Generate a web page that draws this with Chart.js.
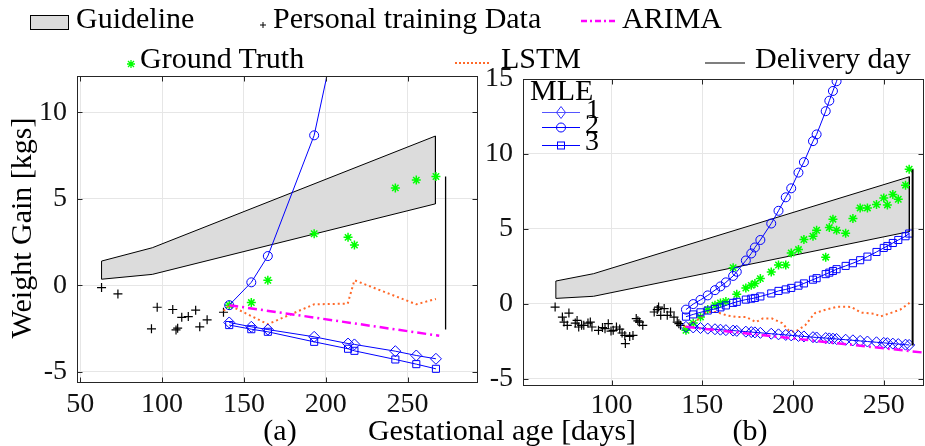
<!DOCTYPE html>
<html>
<head>
<meta charset="utf-8">
<title>Weight gain</title>
<script src="https://cdn.jsdelivr.net/npm/chart.js@4.4.0/dist/chart.umd.min.js"></script>
<style>
  body { margin: 0; width: 925px; height: 446px; overflow: hidden; background: #fff; position: relative; }
  canvas, svg { position: absolute; left: 0; top: 0; }
  svg text { font-family: 'Liberation Serif', serif; fill: #000; }
</style>
</head>
<body>
<canvas id="chartA" width="925" height="446"></canvas>
<canvas id="chartB" width="930" height="446"></canvas>

<svg width="925" height="446" style="pointer-events:none">
  <!-- top legend -->
  <rect x="30.5" y="15.5" width="38" height="14" fill="#dcdcdc" stroke="#000" stroke-width="1"/>
  <text x="76" y="28" font-size="30">Guideline</text>
  <path d="M260 25 h6 M263 22 v6" stroke="#000" stroke-width="1"/>
  <text x="273" y="28" font-size="30">Personal training Data</text>
  <line x1="581" y1="21" x2="617" y2="21" stroke="#ff00ff" stroke-width="2.5" stroke-dasharray="6,3,2,3"/>
  <text x="622" y="28" font-size="30">ARIMA</text>
  <path d="M127 64 h8 M131 60 v8 M128 61 l6 6 M134 61 l-6 6" stroke="#00ff00" stroke-width="1.3"/>
  <text x="140" y="68" font-size="30">Ground Truth</text>
  <line x1="455" y1="63" x2="490" y2="63" stroke="#ff6929" stroke-width="2" stroke-dasharray="2,2"/>
  <text x="501" y="68" font-size="30">LSTM</text>
  <line x1="705" y1="63" x2="745" y2="63" stroke="#000" stroke-width="1.2"/>
  <text x="755" y="68" font-size="30">Delivery day</text>

  <!-- MLE legend inside panel (b) -->
  <text x="530" y="100" font-size="30">MLE</text>
  <line x1="542" y1="112.5" x2="580" y2="112.5" stroke="#5555ff" stroke-width="1.2"/>
  <path d="M561 106.5 l4.5 6 l-4.5 6 l-4.5 -6 z" fill="none" stroke="#3333ff" stroke-width="1"/>
  <line x1="542" y1="127.5" x2="580" y2="127.5" stroke="#0000ff" stroke-width="1"/>
  <circle cx="561" cy="127.5" r="4.5" fill="none" stroke="#0000ff" stroke-width="1"/>
  <line x1="542" y1="145.5" x2="580" y2="145.5" stroke="#0000ff" stroke-width="1"/>
  <rect x="557.5" y="142" width="7" height="7" fill="none" stroke="#0000ff" stroke-width="1"/>
  <text x="586" y="118" font-size="28">1</text>
  <text x="585" y="133" font-size="28">2</text>
  <text x="585" y="150" font-size="28">3</text>

  <!-- axis labels -->
  <text transform="translate(31,228) rotate(-90)" text-anchor="middle" font-size="30">Weight Gain [kgs]</text>
  <text x="502" y="440" text-anchor="middle" font-size="30">Gestational age [days]</text>
  <text x="280" y="440" text-anchor="middle" font-size="30">(a)</text>
  <text x="750" y="440" text-anchor="middle" font-size="30">(b)</text>
</svg>

<script>
// ---------- panel (a) ----------
var xTicksA = [50, 100, 150, 200, 250];
var yTicksA = [-5, 0, 5, 10];

var glDaysA = [63, 94, 267];
var glUpperA = [1.40, 2.17, 8.63];
var glLowerA = [0.35, 0.63, 4.71];

var trainDaysA = [63, 73, 93.5, 97, 106.5, 108.5, 109.5, 112, 116, 120.5, 123, 127.5, 137.5];
var trainValsA = [-0.13, -0.50, -2.52, -1.27, -1.40, -2.58, -2.48, -1.85, -1.81, -1.44, -2.40, -2.00, -1.56];

var predDaysA = [141, 154.5, 164.6, 192.9, 213.6, 217.5, 242.5, 255.3, 267.3];
var truthA = [-1.15, -1.00, 0.29, 2.98, 2.77, 2.33, 5.63, 6.08, 6.29];
var mle1A = [-2.15, -2.40, -2.56, -2.98, -3.37, -3.42, -3.81, -4.06, -4.25];
var mle3A = [-2.30, -2.54, -2.69, -3.27, -3.67, -3.79, -4.29, -4.56, -4.83];
var mle2DaysA = [141, 154.5, 164.6, 192.9, 213.6];
var mle2A = [-1.15, 0.17, 1.69, 8.67, 17.8];

var arimaDaysA = [141, 269.3];
var arimaA = [-1.15, -2.92];
var lstmDaysA = [137.6, 141, 164.6, 192.9, 213.4, 217.5, 255.3, 267.3];
var lstmA = [-1.48, -1.15, -2.25, -1.10, -1.06, 0.29, -1.10, -0.79];

var deliveryDayA = 273.2;
var deliveryValsA = [6.29, -2.56];

// ---------- panel (b) ----------
var xTicksB = [100, 150, 200, 250];
var yTicksB = [-5, 0, 5, 10, 15];

var glDaysB = [69.3, 90.1, 264.1];
var glUpperB = [1.51, 2.00, 8.47];
var glLowerB = [0.35, 0.49, 4.81];

var trainDaysB = [68.9, 72.9, 73.8, 75.6, 76.5, 80.0, 81.0, 81.9, 83.5, 84.7,
                  87.0, 88.3, 89.2, 92.8, 95.0, 96.4, 98.2, 99.7, 100.9, 102.7,
                  104.5, 105.8, 107.3, 107.6, 110.0, 111.8, 113.6, 114.5, 115.4, 117.2,
                  123.5, 125.2, 125.9, 127.1, 129.0, 130.7, 132.5, 134.4, 136.2, 137.1, 138.0];
var trainValsB = [-0.23, -0.90, -1.23, -1.45, -0.63, -1.30, -1.12, -1.56, -1.45, -1.45,
                  -1.30, -1.23, -1.56, -1.78, -1.60, -1.67, -1.34, -1.83, -1.78, -1.56,
                  -1.70, -1.96, -2.12, -2.67, -2.19, -2.12, -1.00, -1.15, -1.23, -1.45,
                  -0.56, -0.40, -0.23, -0.78, -0.33, -0.78, -0.56, -0.90, -1.23, -1.34, -1.45];

var predDaysB = [141, 145, 149, 153, 157, 160, 163, 167, 169, 174, 177, 179, 182, 188, 192, 196, 199, 203,
                 206, 211, 213, 218, 220, 222, 224, 229, 233, 237, 241, 246, 250, 252, 255, 258, 262, 264];
var truthB = [-1.78, -1.30, -0.89, -0.40, -0.11, 0.05, 0.15, 2.40, 0.62, 1.04, 1.22, 1.34, 1.67, 2.11, 2.58, 2.58, 3.38, 3.61,
              4.28, 4.50, 4.90, 3.10, 5.08, 5.64, 4.90, 4.70, 5.68, 6.39, 6.39, 6.62, 7.06, 6.59, 7.29, 6.97, 7.91, 8.98];
var mle1B = [-1.55, -1.59, -1.63, -1.67, -1.71, -1.74, -1.77, -1.80, -1.82, -1.87, -1.90, -1.92, -1.95, -2.01, -2.05, -2.09, -2.12, -2.16,
             -2.19, -2.24, -2.26, -2.30, -2.32, -2.34, -2.36, -2.41, -2.45, -2.49, -2.53, -2.58, -2.62, -2.64, -2.67, -2.70, -2.74, -2.76];
var mle3B = [-0.87, -0.72, -0.58, -0.46, -0.35, -0.25, -0.12, 0.05, 0.12, 0.27, 0.33, 0.38, 0.48, 0.68, 0.85, 0.95, 1.05, 1.20,
             1.35, 1.60, 1.70, 1.97, 2.07, 2.18, 2.30, 2.52, 2.70, 2.90, 3.14, 3.45, 3.72, 3.85, 4.05, 4.25, 4.50, 4.68];
var mle2DaysB = [141, 145, 149, 153, 157, 160, 163, 167, 169, 174, 177, 179, 182, 188, 192, 196, 199, 203,
                 206, 211, 213, 218, 220, 222, 224, 229];
var mle2B = [-0.40, -0.03, 0.25, 0.55, 0.90, 1.15, 1.42, 1.85, 2.13, 2.88, 3.35, 3.75, 4.25, 5.35, 6.20, 7.10, 7.70, 8.75,
             9.45, 10.85, 11.30, 12.85, 13.55, 14.20, 14.85, 16.80];

var arimaDaysB = [141, 272];
var arimaB = [-1.55, -3.27];
var lstmDaysB = [139.8, 147, 152.4, 157.9, 163.3, 168.7, 174.1, 177.8, 179.5, 183.2, 188.6, 194, 197.6,
                 201, 206.7, 210.3, 212.1, 217.5, 224.7, 232, 237.4, 244.6, 248.2, 252.8, 259.1, 264.2];
var lstmB = [-1.56, -1.12, -0.56, -0.56, -0.78, -0.89, -0.89, -1.12, -1.23, -1.00, -1.00, -1.30, -1.78,
             -1.90, -1.45, -0.89, -0.63, -0.42, -0.20, -0.22, -0.60, -0.67, -0.85, -0.67, -0.40, 0.05];

var deliveryDayB = 265.9;
var deliveryValsB = [8.96, -2.8];

// -------------------------------------------
Chart.defaults.font.family = "'Liberation Serif', serif";
Chart.defaults.font.size = 28;
Chart.defaults.color = '#111';

function pts(xs, ys) {
    return xs.map(function (x, i) { return {x: x, y: ys[i]}; });
}

function buildDatasets(p) {
    var outX = p.glDays.concat(p.glDays.slice().reverse(), [p.glDays[0]]);
    var outY = p.glUpper.concat(p.glLower.slice().reverse(), [p.glUpper[0]]);
    var blue = '#0000ff';
    return [
        {data: pts([p.delivery, p.delivery], p.deliveryVals), borderColor: '#000', borderWidth: p.delW, pointRadius: 0, showLine: true},
        {data: pts(p.arimaDays, p.arima), borderColor: '#ff00ff', borderWidth: 2.5, borderDash: [9, 4, 2, 4], pointRadius: 0, showLine: true},
        {data: pts(p.predDays, p.mle1), borderColor: blue, borderWidth: 1, pointStyle: 'rectRot', pointRadius: 5.5,
            pointBorderColor: blue, pointBackgroundColor: 'rgba(0,0,0,0)', showLine: true},
        {data: pts(p.mle2Days, p.mle2), borderColor: blue, borderWidth: 1, pointStyle: 'circle', pointRadius: 4.5,
            pointBorderColor: blue, pointBackgroundColor: 'rgba(0,0,0,0)', showLine: true},
        {data: pts(p.predDays, p.mle3), borderColor: blue, borderWidth: 1, pointStyle: 'rect', pointRadius: 5,
            pointBorderColor: blue, pointBackgroundColor: 'rgba(0,0,0,0)', showLine: true},
        {data: pts(p.lstmDays, p.lstm), borderColor: '#ff6929', borderWidth: 2, borderDash: [2, 3], pointRadius: 0, showLine: true},
        {data: pts(p.predDays, p.truth), pointStyle: 'star', pointRadius: 4.5, pointBorderColor: '#00ff00',
            pointBorderWidth: 1.5, showLine: false},
        {data: pts(p.trainDays, p.train), pointStyle: 'cross', pointRadius: 4.5, pointBorderColor: '#000',
            pointBorderWidth: 1.2, showLine: false},
        // guideline band: outline, upper (filled down to lower), lower
        {data: pts(outX, outY), borderColor: '#000', borderWidth: 1, pointRadius: 0, showLine: true},
        {data: pts(p.glDays, p.glUpper), borderWidth: 0, pointRadius: 0, showLine: true,
            fill: '+1', backgroundColor: '#dcdcdc'},
        {data: pts(p.glDays, p.glLower), borderWidth: 0, pointRadius: 0, showLine: true}
    ];
}

// MATLAB style box with inward ticks
var boxPlugin = {
    id: 'box',
    afterDatasetsDraw: function (chart) {
        var ctx = chart.ctx, a = chart.chartArea, sx = chart.scales.x, sy = chart.scales.y;
        ctx.save();
        ctx.strokeStyle = '#262626';
        ctx.lineWidth = 1;
        var l = Math.round(a.left) + 0.5, r = Math.round(a.right) - 0.5,
            t = Math.round(a.top) + 0.5, b = Math.round(a.bottom) - 0.5;
        ctx.strokeRect(l, t, r - l, b - t);
        ctx.beginPath();
        sx.ticks.forEach(function (tk) {
            var px = Math.round(sx.getPixelForValue(tk.value)) + 0.5;
            ctx.moveTo(px, b); ctx.lineTo(px, b - 5);
            ctx.moveTo(px, t); ctx.lineTo(px, t + 5);
        });
        sy.ticks.forEach(function (tk) {
            var py = Math.round(sy.getPixelForValue(tk.value)) + 0.5;
            ctx.moveTo(l, py); ctx.lineTo(l + 5, py);
            ctx.moveTo(r, py); ctx.lineTo(r - 5, py);
        });
        ctx.stroke();
        ctx.restore();
    }
};

function fixedTicks(values) {
    return function (scale) {
        scale.ticks = values.map(function (v) { return {value: v}; });
    };
}

function makeChart(id, p) {
    return new Chart(document.getElementById(id), {
        type: 'scatter',
        data: {datasets: buildDatasets(p)},
        options: {
            responsive: false,
            devicePixelRatio: 1,
            animation: false,
            layout: {padding: {left: 0, top: p.top, right: p.padRight, bottom: 0}},
            plugins: {legend: {display: false}, tooltip: {enabled: false}},
            scales: {
                x: {
                    type: 'linear', min: p.xMin, max: p.xMax,
                    ticks: {padding: p.xPad, maxRotation: 0, autoSkip: false},
                    grid: {color: '#e6e6e6', drawTicks: false},
                    border: {display: false},
                    afterBuildTicks: fixedTicks(p.xTicks),
                    afterFit: function (s) { s.height = p.xAxisH; }
                },
                y: {
                    type: 'linear', min: p.yMin, max: p.yMax,
                    ticks: {padding: 10, autoSkip: false},
                    grid: {color: '#e6e6e6', drawTicks: false},
                    border: {display: false},
                    afterBuildTicks: fixedTicks(p.yTicks),
                    afterFit: function (s) { s.width = p.yAxisW; }
                }
            }
        },
        plugins: [boxPlugin]
    });
}

makeChart('chartA', {
    glDays: glDaysA, glUpper: glUpperA, glLower: glLowerA,
    trainDays: trainDaysA, train: trainValsA,
    predDays: predDaysA, truth: truthA, mle1: mle1A, mle3: mle3A,
    mle2Days: mle2DaysA, mle2: mle2A,
    arimaDays: arimaDaysA, arima: arimaA, lstmDays: lstmDaysA, lstm: lstmA,
    delivery: deliveryDayA, deliveryVals: deliveryValsA, delW: 1.3,
    xTicks: xTicksA, yTicks: yTicksA,
    xMin: 48, xMax: 293, yMin: -5.65, yMax: 12.1,
    top: 76, padRight: 925 - 478, yAxisW: 77, xAxisH: 446 - 383, xPad: 5
});

makeChart('chartB', {
    glDays: glDaysB, glUpper: glUpperB, glLower: glLowerB,
    trainDays: trainDaysB, train: trainValsB,
    predDays: predDaysB, truth: truthB, mle1: mle1B, mle3: mle3B,
    mle2Days: mle2DaysB, mle2: mle2B,
    arimaDays: arimaDaysB, arima: arimaB, lstmDays: lstmDaysB, lstm: lstmB,
    delivery: deliveryDayB, deliveryVals: deliveryValsB, delW: 2,
    xTicks: xTicksB, yTicks: yTicksB,
    xMin: 51.2, xMax: 271.9, yMin: -5.5, yMax: 15,
    top: 79, padRight: 0, yAxisW: 523, xAxisH: 446 - 386, xPad: 3
});
</script>
</body>
</html>
